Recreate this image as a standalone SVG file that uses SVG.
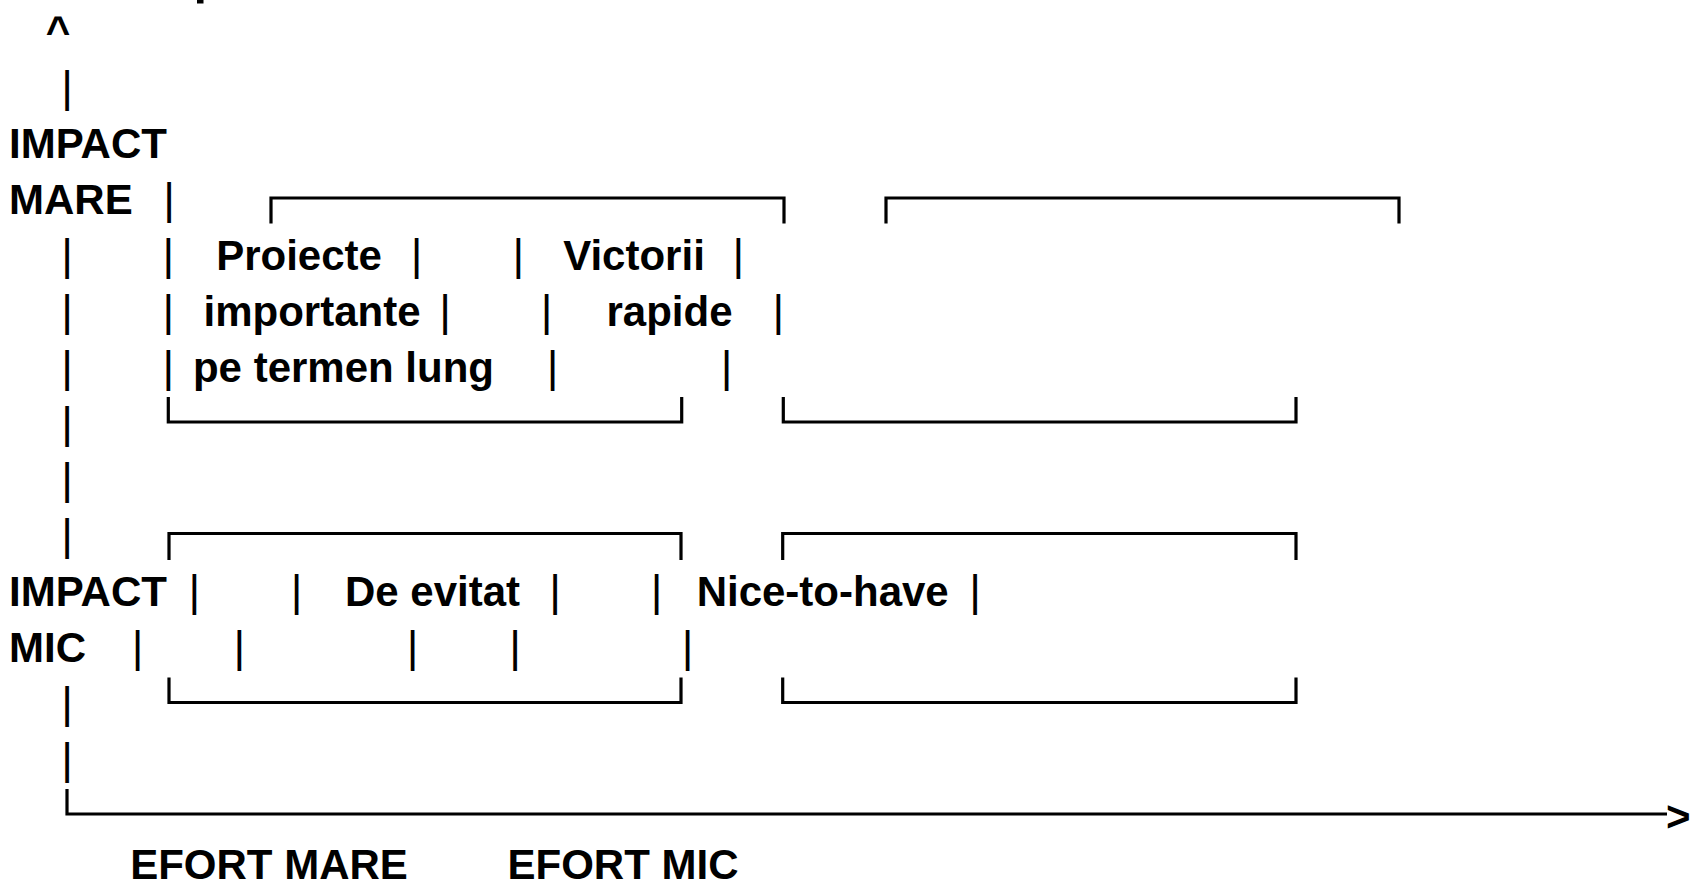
<svg xmlns="http://www.w3.org/2000/svg" width="1694" height="888" viewBox="0 0 1694 888">
<style>
.t{font-family:"Liberation Sans",Arial,Helvetica,sans-serif;font-weight:bold;font-size:42px;fill:#000}
.m{text-anchor:middle}
.p{font-family:"Liberation Sans",Arial,Helvetica,sans-serif;font-weight:normal;font-size:45px;fill:#000;text-anchor:middle}
.b{fill:none;stroke:#000;stroke-width:3.2;stroke-linejoin:miter;stroke-linecap:butt}
</style>
<rect width="1694" height="888" fill="#fff"/>
<rect x="197" y="0" width="6.5" height="3.5" fill="#000"/>

<g id="connectors">
  <text class="t m" x="58" y="46">^</text>
  <text class="p" x="67" y="102">|</text>
  <text class="p" x="67" y="270">|</text>
  <text class="p" x="67" y="326">|</text>
  <text class="p" x="67" y="382">|</text>
  <text class="p" x="67" y="438">|</text>
  <text class="p" x="67" y="494">|</text>
  <text class="p" x="67" y="550">|</text>
  <text class="p" x="67" y="718">|</text>
  <text class="p" x="67" y="774">|</text>
  <path class="b" d="M67,789 V814 H1667"/>
  <text class="t" x="1666" y="831">&gt;</text>
</g>

<g id="label-impact-mare">
  <text class="t" x="9" y="158">IMPACT</text>
  <text class="t" x="9" y="214">MARE</text>
  <text class="p" x="169" y="214">|</text>
</g>

<g id="label-impact-mic">
  <text class="t" x="9" y="606">IMPACT</text>
  <text class="t" x="9" y="662">MIC</text>
</g>

<g id="label-efort">
  <text class="t m" x="269" y="879">EFORT MARE</text>
  <text class="t m" x="623" y="879">EFORT MIC</text>
</g>

<g id="quadrant-upper">
  <path class="b" d="M271,223.5 V198 H784 V223.5"/>
  <path class="b" d="M886,223.5 V198 H1399 V223.5"/>
  <text class="p" x="168.3" y="270">|</text>
  <text class="t m" x="299" y="270">Proiecte</text>
  <text class="p" x="416.7" y="270">|</text>
  <text class="p" x="518.3" y="270">|</text>
  <text class="t m" x="634" y="270">Victorii</text>
  <text class="p" x="738.3" y="270">|</text>
  <text class="p" x="168.3" y="326">|</text>
  <text class="t m" x="312" y="326">importante</text>
  <text class="p" x="445" y="326">|</text>
  <text class="p" x="546.7" y="326">|</text>
  <text class="t m" x="669.5" y="326">rapide</text>
  <text class="p" x="778.3" y="326">|</text>
  <text class="p" x="168.3" y="382">|</text>
  <text class="t m" x="343.5" y="382">pe termen lung</text>
  <text class="p" x="552.7" y="382">|</text>
  <text class="p" x="726.7" y="382">|</text>
  <path class="b" d="M168.3,397 V422 H681.7 V397"/>
  <path class="b" d="M783.3,397 V422 H1296 V397"/>
</g>

<g id="quadrant-lower">
  <path class="b" d="M169,560 V533.5 H681 V560"/>
  <path class="b" d="M782.7,560 V533.5 H1296 V560"/>
  <text class="p" x="194.3" y="606">|</text>
  <text class="p" x="296.7" y="606">|</text>
  <text class="t m" x="432.5" y="606">De evitat</text>
  <text class="p" x="555" y="606">|</text>
  <text class="p" x="656.7" y="606">|</text>
  <text class="t m" x="822.7" y="606">Nice-to-have</text>
  <text class="p" x="975" y="606">|</text>
  <text class="p" x="137.7" y="662">|</text>
  <text class="p" x="239.3" y="662">|</text>
  <text class="p" x="412.7" y="662">|</text>
  <text class="p" x="515" y="662">|</text>
  <text class="p" x="687.7" y="662">|</text>
  <path class="b" d="M169,677.5 V702.5 H681 V677.5"/>
  <path class="b" d="M782.7,677.5 V702.5 H1296 V677.5"/>
</g>
</svg>
